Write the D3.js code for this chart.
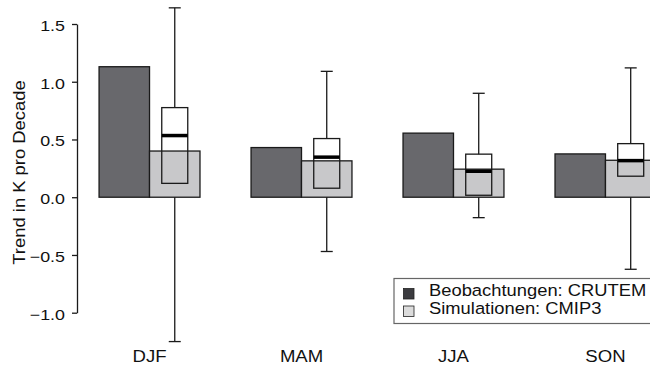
<!DOCTYPE html>
<html>
  <head>
    <meta charset="utf-8">
    <script src="https://d3js.org/d3.v7.min.js"></script>
    <style>
      body { margin: 0; background: #fff; }
      svg text { font-family: "Liberation Sans", Arial, sans-serif; fill: #111; }
    </style>
  </head>
  <body>
    <div id="chart"></div>
    <script>
      // Seasons and trend values (K per decade)
      const seasons = ["DJF", "MAM", "JJA", "SON"];
      const observed = [1.13, 0.43, 0.555, 0.375];
      const simulated = [0.40, 0.315, 0.243, 0.32];
      // Spread of the model ensemble
      const simMin = [-1.25, -0.47, -0.177, -0.624];
      const simQ1 = [0.12, 0.078, 0.017, 0.182];
      const simMedian = [0.534, 0.347, 0.225, 0.317];
      const simQ3 = [0.776, 0.508, 0.373, 0.464];
      const simMax = [1.64, 1.09, 0.90, 1.12];
      const yTicks = [-1.0, -0.5, 0.0, 0.5, 1.0, 1.5];
      const seriesNames = ["Beobachtungen: CRUTEM", "Simulationen: CMIP3"];

      const width = 650, height = 366;
      const obsColor = "#68686c", simColor = "#c8c8ca";
      const legendColors = ["#3c3c40", "#dcdcdc"];

      const svg = d3.select("#chart")
        .append("svg")
        .attr("width", width)
        .attr("height", height);

      // Scales
      const y = d3.scaleLinear().domain([-1, 1.5]).range([312.7, 24]);
      const x0 = d3.scaleBand()
        .domain(seasons)
        .range([48, 707])
        .paddingInner(0.336)
        .paddingOuter(0.336);
      const x1 = d3.scaleBand().domain(["obs", "sim"]).range([0, x0.bandwidth()]);

      const rows = seasons.map((s, i) => ({
        season: s, obs: observed[i], sim: simulated[i],
        min: simMin[i], q1: simQ1[i], med: simMedian[i], q3: simQ3[i], max: simMax[i]
      }));

      const boxW = 26, capW = 12;
      const cx = (d) => x0(d.season) + x1("sim") + x1.bandwidth() / 2;

      // Whiskers (drawn first, bars cover them)
      const whisk = svg.append("g").attr("stroke", "#1a1a1a").attr("stroke-width", 1.3);
      whisk.selectAll(".wt").data(rows).enter().append("line")
        .attr("x1", cx).attr("x2", cx)
        .attr("y1", (d) => y(d.max)).attr("y2", (d) => y(d.q3));
      whisk.selectAll(".wb").data(rows).enter().append("line")
        .attr("x1", cx).attr("x2", cx)
        .attr("y1", (d) => y(d.q1)).attr("y2", (d) => y(d.min));
      whisk.selectAll(".ct").data(rows).enter().append("line")
        .attr("x1", (d) => cx(d) - capW / 2).attr("x2", (d) => cx(d) + capW / 2)
        .attr("y1", (d) => y(d.max)).attr("y2", (d) => y(d.max));
      whisk.selectAll(".cb").data(rows).enter().append("line")
        .attr("x1", (d) => cx(d) - capW / 2).attr("x2", (d) => cx(d) + capW / 2)
        .attr("y1", (d) => y(d.min)).attr("y2", (d) => y(d.min));

      // Bars
      svg.append("g").selectAll("rect").data(rows).enter().append("rect")
        .attr("x", (d) => x0(d.season) + x1("obs"))
        .attr("y", (d) => y(d.obs))
        .attr("width", x1.bandwidth())
        .attr("height", (d) => y(0) - y(d.obs))
        .attr("fill", obsColor)
        .attr("stroke", "#1a1a1a")
        .attr("stroke-width", 1.3);
      svg.append("g").selectAll("rect").data(rows).enter().append("rect")
        .attr("x", (d) => x0(d.season) + x1("sim"))
        .attr("y", (d) => y(d.sim))
        .attr("width", x1.bandwidth())
        .attr("height", (d) => y(0) - y(d.sim))
        .attr("fill", simColor)
        .attr("stroke", "#1a1a1a")
        .attr("stroke-width", 1.3);

      // Boxes (outline only) and median
      svg.append("g").selectAll("rect").data(rows).enter().append("rect")
        .attr("x", (d) => cx(d) - boxW / 2)
        .attr("y", (d) => y(d.q3))
        .attr("width", boxW)
        .attr("height", (d) => y(d.q1) - y(d.q3))
        .attr("fill", "none")
        .attr("stroke", "#1a1a1a")
        .attr("stroke-width", 1.3);
      svg.append("g").selectAll("line").data(rows).enter().append("line")
        .attr("x1", (d) => cx(d) - boxW / 2).attr("x2", (d) => cx(d) + boxW / 2)
        .attr("y1", (d) => y(d.med)).attr("y2", (d) => y(d.med))
        .attr("stroke", "#000")
        .attr("stroke-width", 3.5);

      // Y axis
      const yAxis = svg.append("g")
        .attr("transform", "translate(77,0)")
        .call(d3.axisLeft(y).tickValues(yTicks).tickFormat(d3.format(".1f")).tickSize(5).tickSizeOuter(0));
      yAxis.select(".domain").attr("stroke", "#1a1a1a").attr("stroke-width", 1.3);
      yAxis.selectAll(".tick line").attr("stroke", "#1a1a1a").attr("stroke-width", 1.3);
      yAxis.selectAll(".tick text")
        .attr("x", 0)
        .attr("dy", "0.43em")
        .attr("transform", "translate(-12,0) scale(1.19,1)")
        .style("font-size", "15px")
        .style("font-family", "'Liberation Sans', Arial, sans-serif")
        .attr("fill", "#111");

      // Category labels
      svg.append("g").selectAll("text").data(seasons).enter().append("text")
        .attr("transform", (d) => `translate(${x0(d) + x0.bandwidth() / 2},362) scale(1.16,1)`)
        .attr("text-anchor", "middle")
        .style("font-size", "16px")
        .text((d) => d);

      // Y axis label
      svg.append("text")
        .attr("transform", "translate(25,172.5) rotate(-90) scale(1.15,1)")
        .attr("text-anchor", "middle")
        .style("font-size", "16px")
        .text("Trend in K pro Decade");

      // Legend
      const legend = svg.append("g");
      legend.append("rect")
        .attr("x", 394).attr("y", 278.5)
        .attr("width", 270).attr("height", 45)
        .attr("fill", "#fff")
        .attr("stroke", "#666")
        .attr("stroke-width", 1.2);
      const items = legend.selectAll(".item").data(seriesNames).enter().append("g")
        .attr("transform", (d, i) => `translate(0,${i * 17.5})`);
      items.append("rect")
        .attr("x", 403.5).attr("y", 288.5)
        .attr("width", 10.5).attr("height", 10.5)
        .attr("fill", (d, i) => legendColors[i])
        .attr("stroke", "#222")
        .attr("stroke-width", 0.8);
      items.append("text")
        .attr("transform", "translate(429,296) scale(1.08,1)")
        .style("font-size", "17px")
        .text((d) => d);
    </script>
  </body>
</html>
